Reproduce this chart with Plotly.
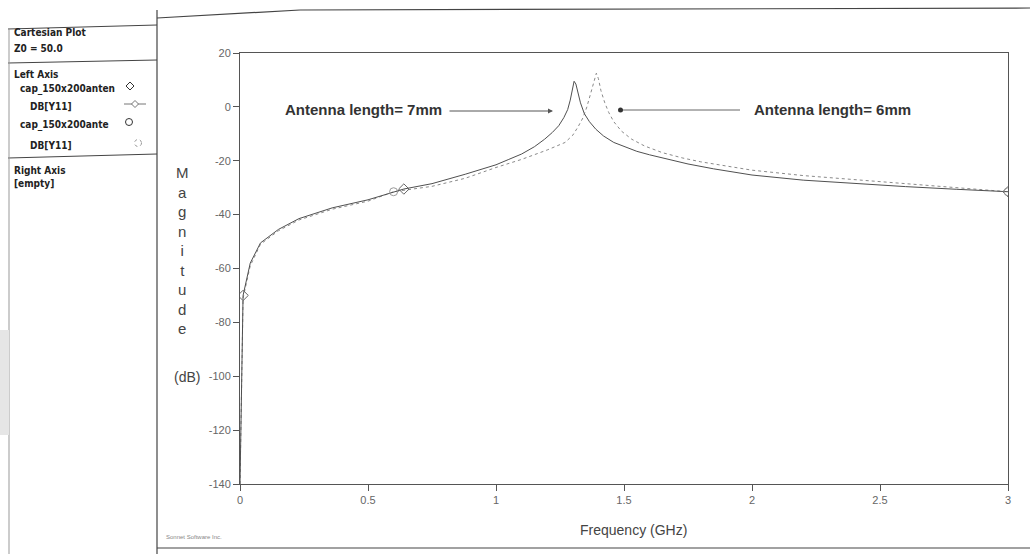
import plotly.graph_objects as go

# ---- data ----
freq_7mm = [0.0, 0.012, 0.04, 0.08, 0.15, 0.23, 0.36, 0.5, 0.64, 0.75, 0.88, 1.0,
            1.05, 1.1, 1.15, 1.19, 1.22, 1.245, 1.265, 1.28, 1.29, 1.298, 1.305,
            1.312, 1.32, 1.33, 1.345, 1.365, 1.39, 1.42, 1.46, 1.5, 1.55, 1.6,
            1.67, 1.75, 1.85, 2.0, 2.2, 2.4, 2.6, 2.8, 3.0]
db_7mm = [-140, -70, -58, -50.5, -45.5, -41.5, -37.5, -34.5, -30.5, -28.5, -25, -21.5,
          -19.5, -17.5, -14.8, -12, -9.5, -7, -4, -1, 2.5, 6.5, 9.5,
          8.5, 5.5, 1.5, -2.5, -5.5, -8.3, -10.8, -13.2, -14.8, -16.5, -17.8,
          -19.5, -21.2, -23, -25.3, -27.2, -28.5, -29.6, -30.6, -31.5]

freq_6mm = [0.0, 0.012, 0.04, 0.08, 0.15, 0.23, 0.36, 0.5, 0.6, 0.75, 0.88, 1.0,
            1.1, 1.2, 1.27, 1.3, 1.32, 1.34, 1.355, 1.37, 1.383, 1.392, 1.4,
            1.41, 1.425, 1.44, 1.46, 1.49, 1.53, 1.58, 1.65, 1.73, 1.8, 1.9,
            2.0, 2.2, 2.4, 2.6, 2.8, 3.0]
db_6mm = [-140, -71, -59, -51, -46, -42, -38, -35, -31.5, -29.5, -26.5, -22.5,
          -19.5, -16, -13.2, -10.5, -7.5, -4, 0, 5, 9.5, 12.5, 10.5,
          6, 1.5, -2, -5.5, -9, -12, -14.5, -17, -19, -20.4, -22,
          -23.5, -25.5, -27, -28.5, -30, -31.5]

marker_idx_7mm = [1, 8, 42]
marker_idx_6mm = [8, 39]

x_ticks = [0, 0.5, 1, 1.5, 2, 2.5, 3]
x_tick_text = ["0", "0.5", "1", "1.5", "2", "2.5", "3"]
y_ticks = [20, 0, -20, -40, -60, -80, -100, -120, -140]
y_tick_text = ["20", "0", "-20", "-40", "-60", "-80", "-100", "-120", "-140"]

W, H = 1030, 554
L, R, T, B = 240, 1008, 53, 484


def px(x):
    return (x - L) / (R - L)


def py(y):
    return (B - y) / (B - T)


fig = go.Figure()
fig.add_trace(go.Scatter(x=freq_6mm, y=db_6mm, mode="lines",
                         line=dict(color="#8a8a8a", width=1, dash="dot"),
                         showlegend=False, hoverinfo="skip"))
fig.add_trace(go.Scatter(x=freq_7mm, y=db_7mm, mode="lines",
                         line=dict(color="#505050", width=1),
                         showlegend=False, hoverinfo="skip"))
fig.add_trace(go.Scatter(x=[freq_7mm[i] for i in marker_idx_7mm],
                         y=[db_7mm[i] for i in marker_idx_7mm], mode="markers",
                         marker=dict(symbol="diamond-open", size=8, color="#666",
                                     line=dict(width=1)),
                         showlegend=False, hoverinfo="skip"))
fig.add_trace(go.Scatter(x=[freq_6mm[i] for i in marker_idx_6mm],
                         y=[db_6mm[i] for i in marker_idx_6mm], mode="markers",
                         marker=dict(symbol="circle-open", size=8, color="#999",
                                     line=dict(width=1)),
                         showlegend=False, hoverinfo="skip"))

axis_common = dict(showgrid=False, zeroline=False, showline=True, mirror=True,
                   linecolor="#555", linewidth=1, ticks="outside", ticklen=6,
                   tickcolor="#555", tickfont=dict(family="Arial, Liberation Sans", size=11, color="#666"))

fig.update_xaxes(range=[0, 3], tickvals=x_ticks, ticktext=x_tick_text, **axis_common)
fig.update_yaxes(range=[-140, 20], tickvals=y_ticks, ticktext=y_tick_text, **axis_common)

shapes = []
ann = []
lc = "#444"
# outer frame / side panel lines
shapes.append(dict(type="line", xref="paper", yref="paper", x0=px(157), x1=px(157), y0=py(10), y1=py(554), line=dict(color=lc, width=1.2)))
shapes.append(dict(type="line", xref="paper", yref="paper", x0=px(157), x1=px(300), y0=py(18), y1=py(10), line=dict(color=lc, width=1.2)))
shapes.append(dict(type="line", xref="paper", yref="paper", x0=px(300), x1=px(1030), y0=py(10), y1=py(8), line=dict(color=lc, width=1.2)))
shapes.append(dict(type="line", xref="paper", yref="paper", x0=px(8), x1=px(157), y0=py(29), y1=py(25), line=dict(color=lc, width=1)))
shapes.append(dict(type="line", xref="paper", yref="paper", x0=px(8), x1=px(157), y0=py(63), y1=py(60), line=dict(color=lc, width=1)))
shapes.append(dict(type="line", xref="paper", yref="paper", x0=px(8), x1=px(157), y0=py(158), y1=py(154), line=dict(color=lc, width=1)))
shapes.append(dict(type="line", xref="paper", yref="paper", x0=px(9), x1=px(9), y0=py(29), y1=py(554), line=dict(color="#999", width=1)))
shapes.append(dict(type="line", xref="paper", yref="paper", x0=px(157), x1=px(1030), y0=py(548), y1=py(548), line=dict(color=lc, width=1.2)))
shapes.append(dict(type="rect", xref="paper", yref="paper", x0=px(0), x1=px(9), y0=py(330), y1=py(435), line=dict(width=0), fillcolor="#e6e6e6"))

pf = "Liberation Sans Narrow, Arial Narrow, DejaVu Sans Condensed, sans-serif"
panel = [("<b>Cartesian Plot</b>", 12, 33), ("<b>Z0 = 50.0</b>", 12, 49),
         ("<b>Left Axis</b>", 12, 74), ("<b>cap_150x200anten</b>", 18, 89),
         ("<b>DB[Y11]</b>", 28, 107), ("<b>cap_150x200ante</b>", 18, 125),
         ("<b>DB[Y11]</b>", 28, 145), ("<b>Right Axis</b>", 12, 170),
         ("<b>[empty]</b>", 12, 183)]
for txt, x, y in panel:
    ann.append(dict(text=txt, xref="paper", yref="paper", x=px(x), y=py(y), xanchor="left", yanchor="middle",
                    showarrow=False, font=dict(family=pf, size=10, color="#222")))


# legend symbols drawn as small shapes
def diamond(cx, cy, r, color, dash="solid"):
    p = (f"M {px(cx)},{py(cy - r)} L {px(cx + r)},{py(cy)} L {px(cx)},{py(cy + r)} "
         f"L {px(cx - r)},{py(cy)} Z")
    return dict(type="path", xref="paper", yref="paper", path=p, line=dict(color=color, width=1, dash=dash))


def ring(cx, cy, r, color, dash="solid"):
    return dict(type="circle", xref="paper", yref="paper", x0=px(cx - r), x1=px(cx + r),
                y0=py(cy + r), y1=py(cy - r), line=dict(color=color, width=1, dash=dash))


shapes.append(diamond(130, 86, 4, "#333"))
shapes.append(dict(type="line", xref="paper", yref="paper", x0=px(124), x1=px(146), y0=py(104), y1=py(104), line=dict(color="#777", width=1)))
shapes.append(dict(type="path", xref="paper", yref="paper",
                   path=f"M {px(135)},{py(100.5)} L {px(138.5)},{py(104)} L {px(135)},{py(107.5)} L {px(131.5)},{py(104)} Z",
                   fillcolor="white", line=dict(color="#777", width=1)))
shapes.append(ring(129, 122, 3.5, "#333"))
shapes.append(ring(138, 143, 3.5, "#999", "dot"))

# axis titles
ann.append(dict(text="M<br>a<br>g<br>n<br>i<br>t<br>u<br>d<br>e", xref="paper", yref="paper", x=px(182), y=py(162),
                xanchor="center", yanchor="top", showarrow=False, align="center",
                font=dict(family="Arial, Liberation Sans", size=15, color="#444")))
ann.append(dict(text="(dB)", xref="paper", yref="paper", x=px(187), y=py(377), xanchor="center", yanchor="middle",
                showarrow=False, font=dict(family="Arial, Liberation Sans", size=14, color="#444")))
ann.append(dict(text="Frequency (GHz)", xref="paper", yref="paper", x=px(633), y=py(530), xanchor="center", yanchor="middle",
                showarrow=False, font=dict(family="Arial, Liberation Sans", size=14, color="#444")))
ann.append(dict(text="Sonnet Software Inc.", xref="paper", yref="paper", x=px(164), y=py(537), xanchor="left", yanchor="middle",
                showarrow=False, font=dict(family="Arial, Liberation Sans", size=6, color="#888")))

# curve labels
lf = dict(family="Arial, Liberation Sans", size=15, color="#333")
ann.append(dict(text="<b>Antenna length= 7mm</b>", xref="paper", yref="paper", x=px(283), y=py(110), xanchor="left", yanchor="middle",
                showarrow=False, font=lf))
ann.append(dict(text="<b>Antenna length= 6mm</b>", xref="paper", yref="paper", x=px(752), y=py(110), xanchor="left", yanchor="middle",
                showarrow=False, font=lf))
ann.append(dict(text="", xref="paper", yref="paper", x=px(553), y=py(111), ax=-105, ay=0,
                showarrow=True, arrowhead=2, arrowsize=1, arrowwidth=1, arrowcolor="#555"))
shapes.append(dict(type="line", xref="paper", yref="paper", x0=px(621), x1=px(740), y0=py(110), y1=py(110), line=dict(color="#666", width=1)))
shapes.append(dict(type="circle", xref="paper", yref="paper", x0=px(618), x1=px(623), y0=py(107.5), y1=py(112.5), fillcolor="#333", line=dict(width=0)))

fig.update_layout(width=W, height=H, margin=dict(l=L, r=W - R, t=T, b=H - B),
                  paper_bgcolor="white", plot_bgcolor="white", shapes=shapes, annotations=ann)
fig.write_html("out.html", config={"displayModeBar": False})

# remove the browser's default page margin so the figure sits at (0, 0)
with open("out.html", "r", encoding="utf-8") as fh:
    html = fh.read()
html = html.replace("<head>", "<head><style>html,body{margin:0;padding:0;}</style>", 1)
with open("out.html", "w", encoding="utf-8") as fh:
    fh.write(html)
